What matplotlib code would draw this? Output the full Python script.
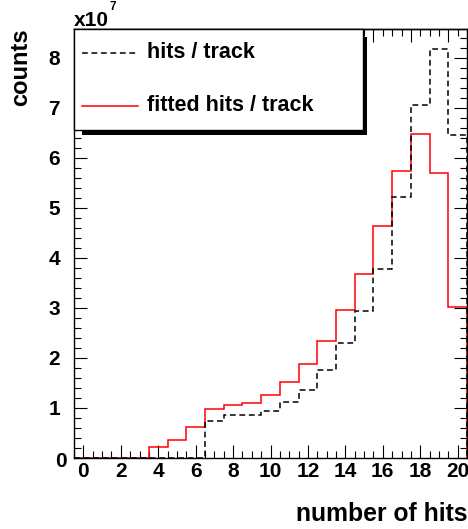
import numpy as np
import matplotlib
matplotlib.use("Agg")
import matplotlib.pyplot as plt
from matplotlib.patches import Rectangle
from matplotlib.lines import Line2D
from matplotlib.ticker import MultipleLocator, FixedLocator, NullFormatter, FuncFormatter

plt.rcParams['font.family'] = ['Liberation Sans', 'DejaVu Sans']
plt.rcParams['font.weight'] = 'bold'

# ---- data (counts in units of 1e7), one bin per integer number of hits ----
n_hits = list(range(0, 21))
hits_per_track = [0, 0, 0, 0, 0, 0, 0, 0.73, 0.85, 0.86, 0.93, 1.11, 1.36, 1.75,
                  2.30, 2.93, 3.78, 5.22, 7.05, 8.17, 6.46]
fitted_hits_per_track = [0, 0, 0, 0, 0.21, 0.36, 0.61, 0.97, 1.06, 1.09, 1.25, 1.52,
                         1.88, 2.34, 2.95, 3.68, 4.63, 5.74, 6.48, 5.69, 3.01]
x_ticks = list(range(0, 21, 2))
y_ticks = list(range(0, 9))
legend_labels = ["hits / track", "fitted hits / track"]
x_title = "number of hits"
y_title = "counts"

W, H = 468, 529
fig = plt.figure(figsize=(W / 100, H / 100), dpi=100)
ax_l, ax_r, ax_t, ax_b = 74, 467, 29, 457.7
ax = fig.add_axes([ax_l / W, (H - ax_b) / H, (ax_r - ax_l) / W, (ax_b - ax_t) / H])

edges = np.arange(len(n_hits) + 1) - 0.5 + n_hits[0]
ax.stairs(fitted_hits_per_track, edges, baseline=0, fill=False, color='#ff0000', lw=1.1, zorder=2)
ax.stairs(hits_per_track, edges, baseline=0, fill=False, color='black', lw=1.1,
          linestyle=(0, (3.8, 2.4)), zorder=3)

ax.set_xlim(-0.5, 20.5)
ax.set_ylim(0, 1.05 * max(hits_per_track))

ax.xaxis.set_major_locator(FixedLocator(x_ticks))
ax.xaxis.set_minor_locator(MultipleLocator(0.5))
ax.yaxis.set_major_locator(FixedLocator(y_ticks))
ax.yaxis.set_minor_locator(MultipleLocator(0.2))
ax.yaxis.set_major_formatter(FuncFormatter(lambda v, p: '' if v == 0 else f'{int(v)}'))

TL = 15
ax.tick_params(axis='both', which='both', direction='in', width=0.8, colors='black')
ax.tick_params(axis='both', which='major', length=9.4, labelsize=TL)
ax.tick_params(axis='both', which='minor', length=4.8)
ax.tick_params(axis='y', which='both', right=True)
ax.tick_params(axis='x', which='major', pad=3.2)
ax.tick_params(axis='y', which='major', pad=10)
for lab in ax.get_xticklabels() + ax.get_yticklabels():
    lab.set_fontweight('bold')

# top axis ticks (offset as in the reference)
sec = ax.secondary_xaxis('top')
sec.xaxis.set_major_locator(FixedLocator(np.arange(-0.5, 20.6, 2)))
sec.xaxis.set_minor_locator(MultipleLocator(0.5))
sec.xaxis.set_major_formatter(NullFormatter())
sec.tick_params(which='both', direction='in', width=0.8)
sec.tick_params(which='major', length=9.4)
sec.tick_params(which='minor', length=4.8)
sec.spines['top'].set_linewidth(1.0)

for s in ax.spines.values():
    s.set_linewidth(1.0)

def fx(px):
    return px / W

def fy(py):
    return 1 - py / H

# special "0" label at bottom of y axis
fig.text(fx(67), fy(461.5), '0', ha='right', va='center', fontsize=TL, fontweight='bold')

# multiplier
fig.text(fx(74), fy(25.5), 'x10', ha='left', va='baseline', fontsize=15, fontweight='bold')
fig.text(fx(110), fy(9.5), '7', ha='left', va='baseline', fontsize=8.5, fontweight='bold')

# axis titles
fig.text(fx(467), fy(521), x_title, ha='right', va='baseline', fontsize=17.8, fontweight='bold')
fig.text(fx(27), fy(28), y_title, ha='right', va='baseline', rotation=90,
         rotation_mode='anchor', fontsize=17, fontweight='bold')

# legend box with shadow
box_l, box_r, box_t, box_b = 74, 363, 29, 130
fig.add_artist(Rectangle((fx(box_l + 8), fy(box_b + 5)), fx(box_r + 4) - fx(box_l + 8),
                         fy(box_t + 8) - fy(box_b + 5), transform=fig.transFigure,
                         facecolor='black', edgecolor='none', zorder=10))
fig.add_artist(Rectangle((fx(box_l), fy(box_b)), fx(box_r) - fx(box_l), fy(box_t) - fy(box_b),
                         transform=fig.transFigure, facecolor='white', edgecolor='black',
                         lw=1.0, zorder=11))
fig.add_artist(Line2D([fx(82), fx(138)], [fy(53), fy(53)], transform=fig.transFigure,
                      color='black', lw=1.1, linestyle=(0, (3.8, 2.4)), zorder=12))
fig.add_artist(Line2D([fx(82), fx(138)], [fy(105.5), fy(105.5)], transform=fig.transFigure,
                      color='#ff0000', lw=1.1, zorder=12))
fig.text(fx(147), fy(53), legend_labels[0], ha='left', va='center', fontsize=15.5,
         fontweight='bold', zorder=13)
fig.text(fx(147), fy(105.5), legend_labels[1], ha='left', va='center', fontsize=15.5,
         fontweight='bold', zorder=13)

fig.savefig('out.png', dpi=100)
